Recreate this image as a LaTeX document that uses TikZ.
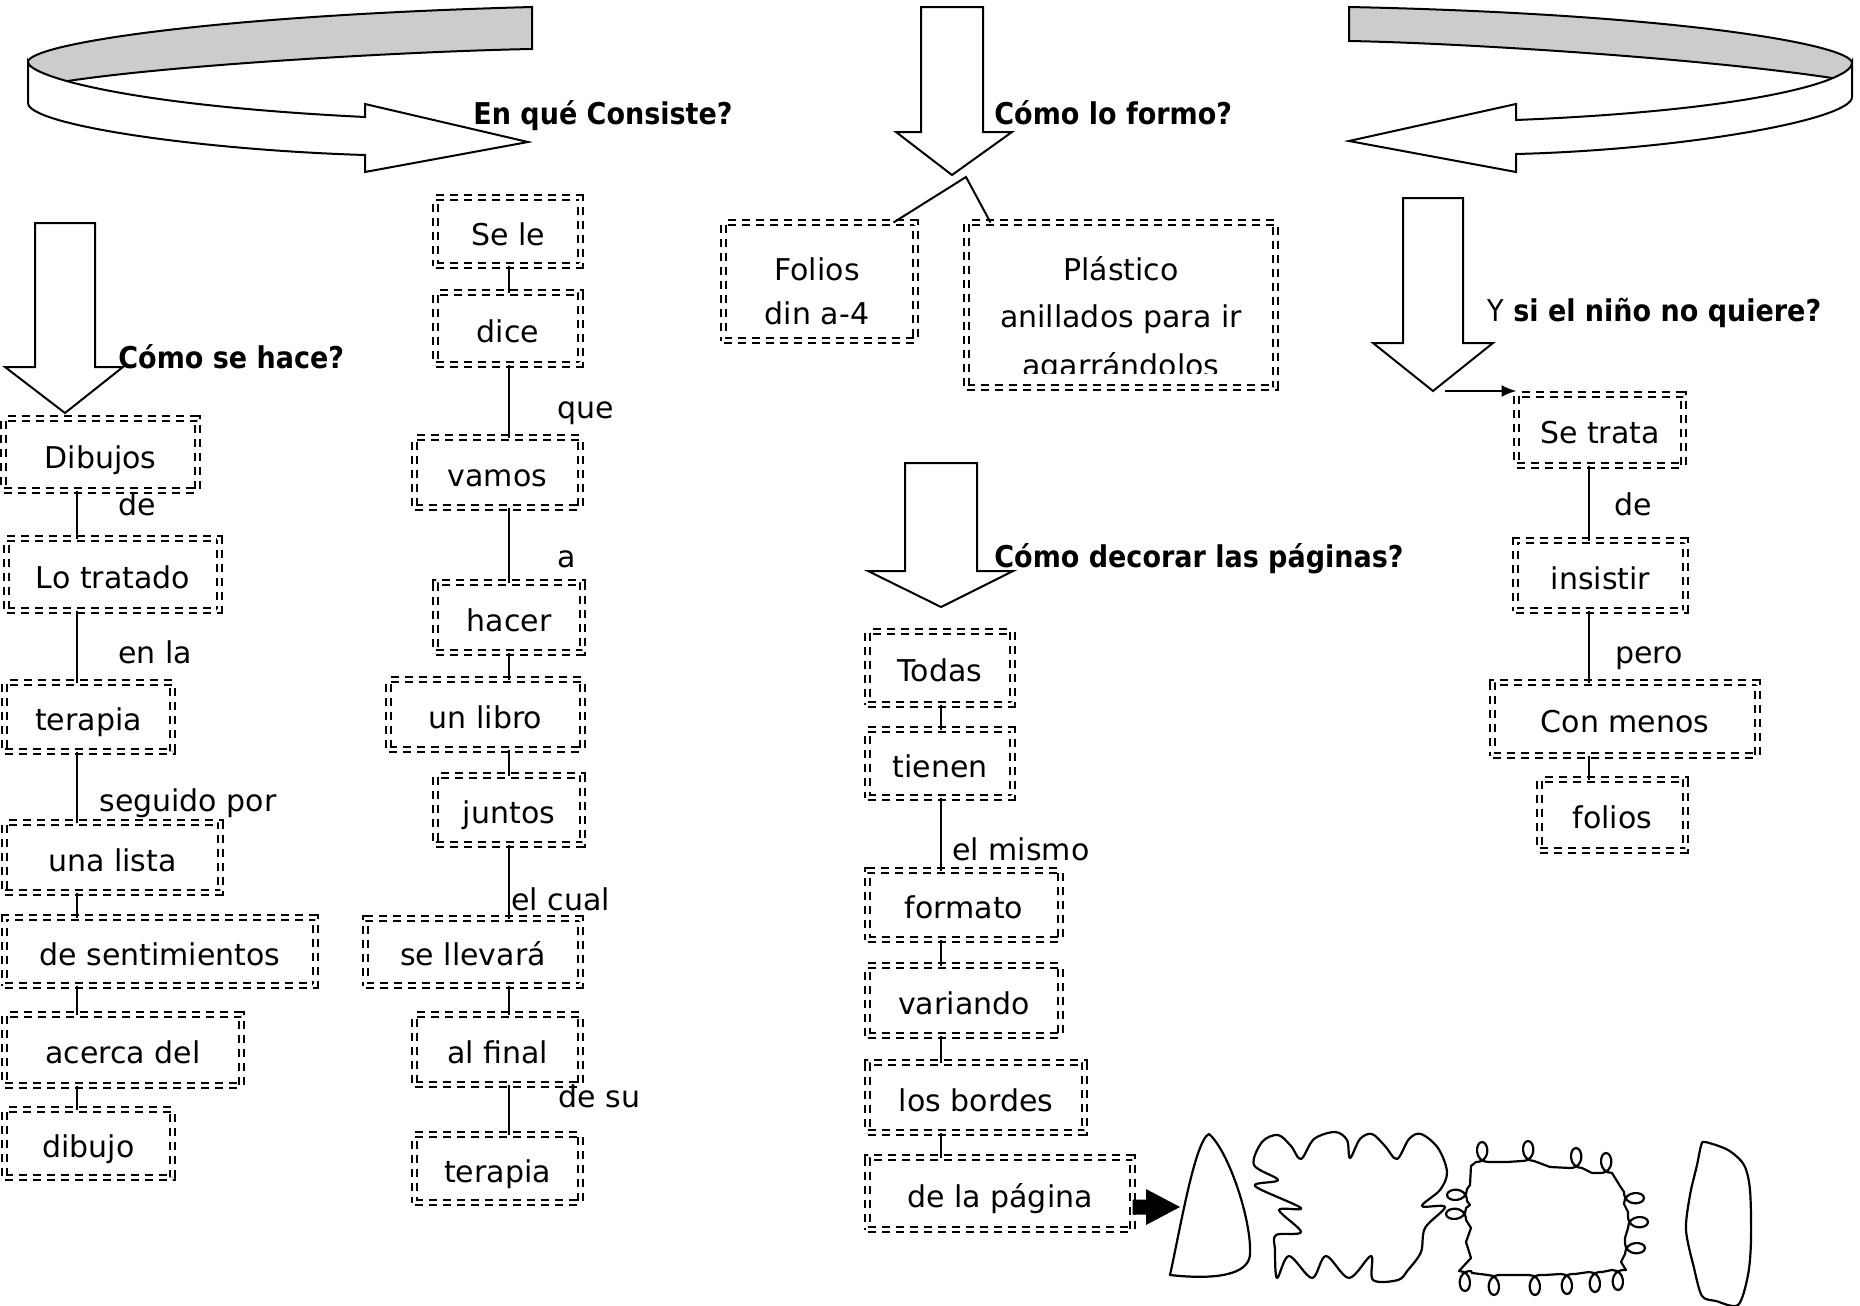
\documentclass[tikz,border=0pt]{standalone}
\usepackage{fontspec}
\setmainfont{DejaVu Sans}
\newfontfamily\hfont[FakeStretch=0.9]{DejaVu Sans}
\usetikzlibrary{arrows.meta}
\newcommand{\crU}[2]{-- (#1-6,#2) .. controls (#1+9,#2) and (#1+7,#2-20) .. (#1,#2-20) .. controls (#1-7,#2-20) and (#1-8,#2) .. (#1+6,#2)}
\newcommand{\crR}[2]{-- (#1,#2-6) .. controls (#1,#2+9) and (#1+20,#2+7) .. (#1+20,#2) .. controls (#1+20,#2-7) and (#1,#2-8) .. (#1,#2+6)}
\newcommand{\crD}[2]{-- (#1+6,#2) .. controls (#1-9,#2) and (#1-7,#2+20) .. (#1,#2+20) .. controls (#1+7,#2+20) and (#1+8,#2) .. (#1-6,#2)}
\newcommand{\crL}[2]{-- (#1,#2+6) .. controls (#1,#2-9) and (#1-20,#2-7) .. (#1-20,#2) .. controls (#1-20,#2+7) and (#1,#2+8) .. (#1,#2-6)}
\begin{document}
\begin{tikzpicture}[x=0.5pt,y=-0.5pt,
  every node/.style={font=\fontsize{15pt}{23pt}\selectfont},
  bx/.style={draw, double=white, double distance=1.1pt, line width=1.1pt,
    dash pattern=on 4pt off 3pt, inner sep=0pt, outer sep=0pt,
    text height=17.25pt, text depth=3.75pt},
  lbl/.style={anchor=base west, inner sep=0pt},
  ctr/.style={anchor=base, inner sep=0pt},
  hd/.style={anchor=base west, inner sep=0pt, font=\fontsize{15pt}{23pt}\selectfont\hfont\bfseries},
  blk/.style={draw, line width=1pt, fill=white, line join=miter},
  con/.style={line width=1pt},
  shp/.style={line width=1.1pt, line join=round}]
\useasboundingbox (0,0) rectangle (1860,1306);

% ---------- curved arrow, left ----------
\fill[gray!40] (28,62) .. controls (28,45) and (200,16) .. (532,7) -- (532,49)
  .. controls (420,51) and (180,64) .. (68,81) -- (45,95) -- (28,90) -- cycle;
\draw[line width=1pt] (28,62) .. controls (28,45) and (200,16) .. (532,7) -- (532,49)
  .. controls (420,51) and (180,64) .. (68,81);
\draw[blk] (28,62) .. controls (28,75) and (120,105) .. (365,117) -- (365,104)
  -- (528,142) -- (365,172) -- (365,155) .. controls (200,150) and (28,125) .. (28,103) -- cycle;

% ---------- curved arrow, right ----------
\fill[gray!40] (1349,7) .. controls (1680,14) and (1852,45) .. (1852,63) -- (1852,88)
  -- (1835,95) -- (1832,78) .. controls (1700,58) and (1460,43) .. (1349,41) -- cycle;
\draw[line width=1pt] (1832,78) .. controls (1700,58) and (1460,43) .. (1349,41) -- (1349,7)
  .. controls (1680,14) and (1852,45) .. (1852,63);
\draw[blk] (1852,63) .. controls (1852,80) and (1760,110) .. (1516,120) -- (1516,104)
  -- (1349,141) -- (1516,172) -- (1516,154) .. controls (1680,150) and (1852,120) .. (1852,97) -- cycle;

% ---------- block arrows ----------
\draw[blk] (35,223) -- (95,223) -- (95,367) -- (123,367) -- (65,413) -- (5,367) -- (35,367) -- cycle;
\draw[blk] (921,7) -- (983,7) -- (983,132) -- (1012,132) -- (952,175) -- (896,132) -- (921,132) -- cycle;
\draw[blk] (905,463) -- (977,463) -- (977,571) -- (1013,571) -- (941,607) -- (868,571) -- (905,571) -- cycle;
\draw[blk] (1403,198) -- (1463,198) -- (1463,343) -- (1493,343) -- (1433,391) -- (1373,343) -- (1403,343) -- cycle;

% ---------- headings ----------
\node[hd] (h1) at (473,124) {En qué Consiste?};
\node[hd] (h2) at (994,124) {Cómo lo formo?};
\node[hd] (h3) at (118,368) {Cómo se hace?};
\node[hd] (h4) at (994,567) {Cómo decorar las páginas?};
\node[hd] (h5) at (1487,321) {{\mdseries Y} si el niño no quiere?};

% ---------- left column ----------
\node[bx, minimum width=97pt, minimum height=36pt] (dibujos) at (100.5,454.5) {Dibujos};
\node[bx, minimum width=106.5pt, minimum height=36pt] (lotratado) at (113,574.5) {Lo tratado};
\node[bx, minimum width=84pt, minimum height=34.5pt] (terapiaA) at (88.5,717) {terapia};
\node[bx, minimum width=108pt, minimum height=35pt] (unalista) at (112.5,857.5) {una lista};
\node[bx, minimum width=155.5pt, minimum height=34pt] (desent) at (160,951.5) {de sentimientos};
\node[bx, minimum width=118.5pt, minimum height=35.5pt] (acerca) at (123,1050) {acerca del};
\node[bx, minimum width=84pt, minimum height=34pt] (dibujo) at (88.5,1143.5) {dibujo};
\coordinate (cL) at (77,0);
\draw[con] (dibujos.south -| cL) -- (lotratado.north -| cL);
\draw[con] (lotratado.south -| cL) -- (terapiaA.north -| cL);
\draw[con] (terapiaA.south -| cL) -- (unalista.north -| cL);
\draw[con] (unalista.south -| cL) -- (desent.north -| cL);
\draw[con] (desent.south -| cL) -- (acerca.north -| cL);
\draw[con] (acerca.south -| cL) -- (dibujo.north -| cL);
\node[lbl] (l1) at (118,515) {de};
\node[lbl] (l2) at (118,663) {en la};
\node[lbl] (l3) at (99,811) {seguido por};

% ---------- middle-left column ----------
\node[bx, minimum width=72.5pt, minimum height=34pt] (sele) at (508,231.5) {Se le};
\node[bx, minimum width=72.5pt, minimum height=36pt] (dice) at (508,328.5) {dice};
\node[bx, minimum width=83pt, minimum height=35pt] (vamos) at (497.5,472.5) {vamos};
\node[bx, minimum width=73.5pt, minimum height=35pt] (hacer) at (509,617.5) {hacer};
\node[bx, minimum width=97pt, minimum height=35pt] (unlibro) at (485.5,714.5) {un libro};
\node[bx, minimum width=73.5pt, minimum height=34.5pt] (juntos) at (509,810) {juntos};
\node[bx, minimum width=107.5pt, minimum height=33.5pt] (sellevara) at (473,952) {se llevará};
\node[bx, minimum width=83pt, minimum height=35pt] (alfinal) at (497.5,1049.5) {al final};
\node[bx, minimum width=83pt, minimum height=34pt] (terapiaB) at (497.5,1168.5) {terapia};
\coordinate (cM) at (509,0);
\draw[con] (sele.south -| cM) -- (dice.north -| cM);
\draw[con] (dice.south -| cM) -- (vamos.north -| cM);
\draw[con] (vamos.south -| cM) -- (hacer.north -| cM);
\draw[con] (hacer.south -| cM) -- (unlibro.north -| cM);
\draw[con] (unlibro.south -| cM) -- (juntos.north -| cM);
\draw[con] (juntos.south -| cM) -- (sellevara.north -| cM);
\draw[con] (sellevara.south -| cM) -- (alfinal.north -| cM);
\draw[con] (alfinal.south -| cM) -- (terapiaB.north -| cM);
\node[lbl] (m1) at (557,418) {que};
\node[lbl] (m2) at (557,567) {a};
\node[lbl] (m3) at (511,910) {el cual};
\node[lbl] (m4) at (558,1107) {de su};

% ---------- materials ----------
\node[bx, minimum width=96pt, minimum height=59pt] (folbox) at (819.5,281.5) {};
\node[ctr] (fol1) at (817,280) {Folios};
\node[ctr] (fol2) at (817,324) {din a-4};
\node[bx, minimum width=154.5pt, minimum height=82.5pt] (plabox) at (1121,305) {};
\begin{scope}
\clip (960,215) rectangle (1285,373);
\node[ctr] (pla1) at (1121,280) {Plástico};
\node[ctr] (pla2) at (1121,327) {anillados para ir};
\node[ctr] (pla3) at (1121,376) {agarrándolos};
\end{scope}
\coordinate (fv) at (966,177);
\draw[con] ([xshift=-11pt]folbox.north east) -- (fv) -- ([xshift=12pt]plabox.north west);

% ---------- decoration column ----------
\node[bx, minimum width=72.5pt, minimum height=36.5pt] (todas) at (940,668) {Todas};
\node[bx, minimum width=72.5pt, minimum height=34pt] (tienen) at (940,763.5) {tienen};
\node[bx, minimum width=96.5pt, minimum height=34.5pt] (formato) at (964,905) {formato};
\node[bx, minimum width=96.5pt, minimum height=35pt] (variando) at (964,1000.5) {variando};
\node[bx, minimum width=108.5pt, minimum height=35pt] (losbordes) at (976,1097.5) {los bordes};
\node[bx, minimum width=132.5pt, minimum height=36pt] (pagina) at (1000,1193.5) {de la página};
\coordinate (cD) at (941,0);
\draw[con] (todas.south -| cD) -- (tienen.north -| cD);
\draw[con] (tienen.south -| cD) -- (formato.north -| cD);
\draw[con] (formato.south -| cD) -- (variando.north -| cD);
\draw[con] (variando.south -| cD) -- (losbordes.north -| cD);
\draw[con] (losbordes.south -| cD) -- (pagina.north -| cD);
\node[lbl] (d1) at (952,860) {el mismo};
\coordinate (tipA) at (1180,1207);
\coordinate (sA) at (0,1199.5);
\coordinate (sB) at (0,1214.5);
\fill (pagina.east |- sA) -- (1146,1199.5) -- (1146,1189) -- (tipA) -- (1146,1225) -- (1146,1214.5) -- (pagina.east |- sB) -- cycle;

% ---------- border shapes ----------
\draw[shp] (1209,1134) .. controls (1228,1150) and (1252,1220) .. (1250,1255)
  .. controls (1248,1275) and (1215,1280) .. (1170,1275)
  .. controls (1180,1230) and (1195,1140) .. (1209,1134) -- cycle;
\draw[shp] plot[smooth cycle, tension=0.55] coordinates {
  (1254,1165) (1262,1142) (1278,1135) (1291,1146) (1301,1159) (1314,1139) (1335,1132)
  (1347,1140) (1350,1158) (1360,1139) (1372,1134) (1385,1146) (1397,1159) (1409,1139)
  (1421,1134) (1438,1148) (1447,1172) (1440,1190) (1422,1206) (1445,1207) (1425,1228)
  (1421,1252) (1408,1270) (1398,1280) (1373,1280) (1371,1256) (1349,1278) (1326,1256)
  (1312,1278) (1289,1256) (1277,1278) (1275,1250) (1276,1235) (1301,1232) (1279,1210)
  (1301,1208) (1255,1186) (1278,1180)};
\draw[shp] (1471,1166) \crU{1482}{1162} -- (1507,1162) \crU{1528}{1161} -- (1550,1167)
  \crU{1576}{1168} -- (1592,1173) \crU{1606}{1173} -- (1620,1186) \crR{1624}{1198}
  -- (1628,1212) \crR{1628}{1222} -- (1625,1238) \crR{1625}{1248} -- (1621,1262)
  -- (1626,1270) \crD{1618}{1270} -- (1602,1272) \crD{1595}{1272} -- (1575,1274)
  \crD{1567}{1274} -- (1545,1275) \crD{1535}{1275} -- (1505,1275) \crD{1494}{1275}
  -- (1472,1273) \crD{1465}{1271} -- (1471,1258) -- (1466,1242) -- (1471,1228)
  \crL{1466}{1214} -- (1470,1205) \crL{1467}{1195} -- (1470,1185) -- cycle;
\draw[shp] plot[smooth cycle, tension=0.5] coordinates {
  (1705,1142) (1728,1150) (1744,1165) (1750,1190) (1751,1240) (1748,1275) (1738,1305)
  (1716,1301) (1702,1296) (1694,1268) (1686,1230) (1690,1195) (1697,1165) (1701,1146)};

% ---------- right column ----------
\node[bx, minimum width=83.5pt, minimum height=35.5pt] (setrata) at (1600,430) {Se trata};
\node[bx, minimum width=85pt, minimum height=35pt] (insistir) at (1600.5,575.5) {insistir};
\node[bx, minimum width=132.5pt, minimum height=36.5pt] (conmenos) at (1625,719) {Con menos};
\node[bx, minimum width=73pt, minimum height=35.5pt] (folios) at (1612.5,815) {folios};
\coordinate (cR) at (1589,0);
\draw[con] (setrata.south -| cR) -- (insistir.north -| cR);
\draw[con] (insistir.south -| cR) -- (conmenos.north -| cR);
\draw[con] (conmenos.south -| cR) -- (folios.north -| cR);
\node[lbl] (r1) at (1614,515) {de};
\node[lbl] (r2) at (1615,663) {pero};
\coordinate (rA) at (1445,391);
\draw[con, -{Latex[length=7.5pt,width=6pt]}] (rA) -- (rA -| setrata.north west);
\end{tikzpicture}
\end{document}
